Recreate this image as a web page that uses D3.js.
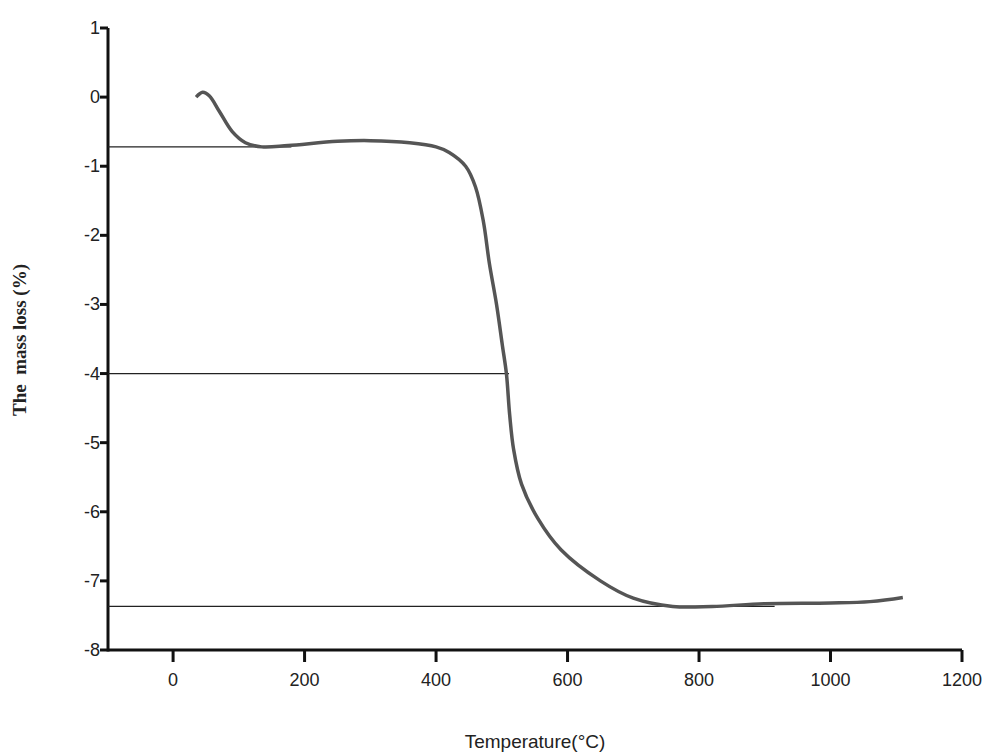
<!DOCTYPE html>
<html><head><meta charset="utf-8">
<script src="https://cdn.jsdelivr.net/npm/d3@7"></script>
<style>body{margin:0;background:#fff}</style></head>
<body><svg id="c" width="988" height="755"></svg>
<script>
var temps = [35,45,55,70,90,110,135,175,250,300,360,400,420,445,460,472,481,492,501,507,512,518,530,555,590,650,700,760,820,900,1000,1060,1110];
var mass  = [0,0.07,0.02,-0.2,-0.5,-0.66,-0.72,-0.7,-0.64,-0.63,-0.66,-0.72,-0.8,-1.0,-1.3,-1.8,-2.4,-3.0,-3.6,-4.0,-4.6,-5.1,-5.6,-6.1,-6.55,-7.0,-7.25,-7.37,-7.37,-7.33,-7.32,-7.3,-7.24];
var refLevels = [-0.72, -4.0, -7.37];
var refEnds = [180, 511, 915];
var xTicks = [0,200,400,600,800,1000,1200];
var yTicks = [1,0,-1,-2,-3,-4,-5,-6,-7,-8];

var svg = d3.select("#c");
var x = d3.scaleLinear().domain([-99, 1200]).range([108, 962]);
var y = d3.scaleLinear().domain([-8, 1]).range([650, 28]);
var font = "Liberation Sans, Arial";

// axes drawn by hand from the scales so the strokes come out heavy
var g = svg.append("g").attr("stroke","#111").attr("stroke-width",3);
g.append("line").attr("x1",x.range()[0]).attr("x2",x.range()[1]).attr("y1",y(-8)).attr("y2",y(-8));
g.append("line").attr("x1",x(-99)).attr("x2",x(-99)).attr("y1",y(-8)+1.5).attr("y2",y(1));
g.selectAll(".xt").data(xTicks).enter().append("line")
  .attr("x1",function(d){return x(d);}).attr("x2",function(d){return x(d);})
  .attr("y1",y(-8)).attr("y2",y(-8)+12);
g.selectAll(".yt").data(yTicks).enter().append("line")
  .attr("x1",x(-99)-8).attr("x2",x(-99))
  .attr("y1",function(d){return y(d);}).attr("y2",function(d){return y(d);});

svg.selectAll(".xl").data(xTicks).enter().append("text")
  .attr("x",function(d){return x(d);}).attr("y",y(-8)+36).attr("text-anchor","middle")
  .attr("font-family",font).attr("font-size",18).attr("fill","#222").text(function(d){return d;});
svg.selectAll(".yl").data(yTicks).enter().append("text")
  .attr("x",x(-99)-8).attr("y",function(d){return y(d)+6;}).attr("text-anchor","end")
  .attr("font-family",font).attr("font-size",18).attr("fill","#222").text(function(d){return String(d);});

svg.selectAll(".ref").data(refLevels).enter().append("line")
  .attr("x1",108).attr("x2",function(d,i){return x(refEnds[i]);})
  .attr("y1",function(d){return y(d);}).attr("y2",function(d){return y(d);})
  .attr("stroke","#222").attr("stroke-width",1.3);

var line = d3.line().curve(d3.curveCatmullRom.alpha(0.5)).x(function(d){return x(d[0]);}).y(function(d){return y(d[1]);});
svg.append("path").datum(d3.zip(temps, mass)).attr("d", line)
  .attr("fill","none").attr("stroke","#555").attr("stroke-width",3.5);

svg.append("text").attr("x",535).attr("y",748).attr("text-anchor","middle")
  .attr("font-family",font).attr("font-size",19).attr("fill","#222").text("Temperature(°C)");
svg.append("text").attr("transform","translate(26,340) rotate(-90)").attr("text-anchor","middle")
  .attr("font-family","Liberation Serif, Times New Roman").attr("font-weight","bold").attr("font-size",19)
  .attr("fill","#222").attr("xml:space","preserve").text("The  mass loss (%)");
</script></body></html>
